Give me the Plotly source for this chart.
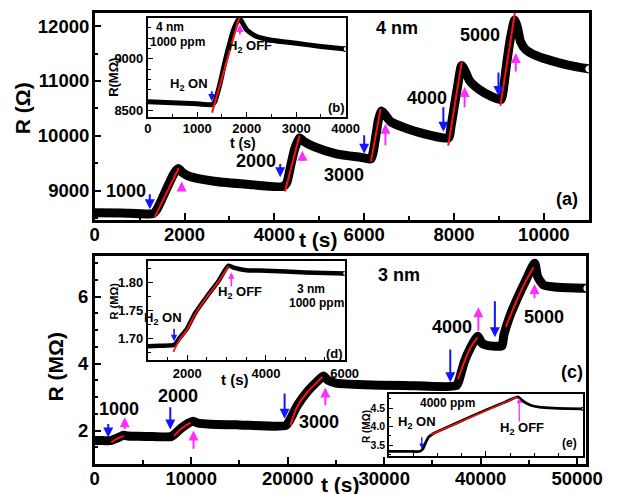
import plotly.graph_objects as go

W, H = 626, 494
FONT = "Arial, Liberation Sans, sans-serif"
BLUE = "#1414ff"
MAG = "#ff2cff"
RED = "#ff1010"

# ---------------- (a) 4 nm, main ----------------
t_a = [0, 600, 1300, 1380, 1500, 1650, 1780, 1860, 1950, 2100, 2660, 3380, 4200,
       4280, 4370, 4460, 4560, 4650, 4880, 5380, 5960, 6150,
       6200, 6260, 6320, 6380, 6450, 6600, 7180, 7880,
       7930, 8000, 8080, 8170, 8250, 8350, 8550, 8800, 9050,
       9100, 9170, 9250, 9350, 9420, 9480, 9600, 9830, 10200, 10540, 11000]
R_a = [8595, 8590, 8580, 8650, 8850, 9120, 9330, 9400, 9330, 9260, 9170, 9115, 9075,
       9150, 9480, 9780, 9960, 9900, 9800, 9670, 9600, 9575,
       9700, 10000, 10300, 10450, 10400, 10250, 10070, 9960,
       10150, 10500, 10900, 11280, 11180, 11000, 10850, 10730, 10660,
       10850, 11300, 11750, 12110, 11950, 11720, 11570, 11460, 11360, 11290, 11220]
fit_a_t = [[1333, 1870], [4237, 4559], [6150, 6365], [7871, 8172], [9032, 9355]]
fit_a_R = [[8510, 9410], [8982, 10000], [9527, 10490], [9818, 11345], [10545, 12236]]
conc_a = ["1000", "2000", "3000", "4000", "5000"]
conc_a_t = [700, 3590, 5550, 7400, 8580]
conc_a_R = [8985, 9530, 9290, 10690, 11840]
on_a_t = [1226, 4130, 6000, 7763, 8990]
on_a_from = [8960, 9510, 10036, 10545, 11180]
on_a_to = [8660, 9240, 9673, 10073, 10727]
off_a_t = [1935, 4624, 6473, 8236, 9376]
off_a_from = [8964, 9509, 9800, 10490, 11145]
off_a_to = [9164, 9727, 10218, 10890, 11509]

# ---------------- (b) 4 nm, 1000 ppm inset ----------------
t_b = [0, 500, 1000, 1300, 1350, 1450, 1550, 1650, 1750, 1850, 1900, 2000, 2200, 2500, 3000, 3500, 4000]
R_b = [8585, 8575, 8565, 8558, 8580, 8740, 8950, 9140, 9300, 9390, 9360, 9280, 9215, 9180, 9150, 9120, 9095]
fit_b_t = [1300, 1850]
fit_b_R = [8480, 9400]

# ---------------- (c) 3 nm, main ----------------
t_c = [0, 800, 1600, 2000, 2500, 3000, 3400, 4500, 6000, 7900,
       8300, 9000, 9700, 10200, 10700, 12000, 15000, 19800,
       20200, 21000, 22000, 23000, 23700, 24200, 25000, 28000, 32000, 37500,
       37800, 38300, 38900, 39700, 40100, 40600, 41500, 42200,
       42400, 43000, 43800, 44700, 45600, 45900, 46500, 48000, 51000]
R_c = [1.70, 1.70, 1.70, 1.74, 1.80, 1.86, 1.84, 1.83, 1.82, 1.82,
       1.90, 2.08, 2.22, 2.28, 2.22, 2.19, 2.17, 2.15,
       2.30, 2.75, 3.15, 3.45, 3.63, 3.50, 3.42, 3.37, 3.35, 3.35,
       3.55, 4.05, 4.45, 4.82, 4.62, 4.55, 4.52, 4.53,
       4.85, 5.40, 5.95, 6.50, 7.00, 6.60, 6.35, 6.28, 6.25]
fit_c_t = [[1700, 2300, 3000], [8230, 9000, 9940], [20280, 21000, 22000, 23000, 23600],
           [37650, 38300, 38900, 39660], [42600, 43000, 43800, 44700, 45500]]
fit_c_R = [[1.65, 1.75, 1.84], [1.84, 2.06, 2.24], [2.15, 2.72, 3.13, 3.43, 3.60],
           [3.53, 4.05, 4.45, 4.78], [5.10, 5.38, 5.93, 6.48, 6.88]]
conc_c = ["1000", "2000", "3000", "4000", "5000"]
conc_c_t = [2510, 8630, 23290, 37050, 46590]
conc_c_R = [2.65, 3.03, 2.26, 5.09, 5.38]
on_c_t = [1400, 7830, 19680, 36850, 41470]
on_c_from = [2.24, 2.74, 3.15, 4.47, 5.91]
on_c_to = [1.79, 2.03, 2.35, 3.44, 4.79]
off_c_t = [3110, 10240, 23900, 39760, 45580]
off_c_from = [2.00, 1.41, 2.71, 4.94, 5.91]
off_c_to = [2.40, 2.00, 3.29, 5.68, 6.38]

# ---------------- (d) 3 nm, 1000 ppm inset ----------------
t_d = [1000, 1300, 1650, 1700, 1800, 2000, 2200, 2500, 2800, 3050, 3200, 3500, 4000, 5000, 6000]
R_d = [1.686, 1.687, 1.688, 1.690, 1.700, 1.718, 1.745, 1.775, 1.803, 1.830, 1.826, 1.822, 1.821, 1.818, 1.816]
fit_d_t = [1650, 1800, 2000, 2200, 2500, 2800, 3050]
fit_d_R = [1.676, 1.697, 1.716, 1.743, 1.774, 1.802, 1.829]

# ---------------- (e) 4000 ppm inset ----------------
t_e = [30000, 32000, 33200, 33500, 33800, 34100, 34500, 36000, 38000, 40000, 42000, 43300,
       43600, 44000, 44600, 45500, 47000, 50000]
R_e = [3.33, 3.33, 3.33, 3.40, 3.58, 3.72, 3.80, 3.98, 4.22, 4.45, 4.67, 4.81,
       4.74, 4.66, 4.58, 4.53, 4.50, 4.48]
fit_e_t = [34300, 43200]
fit_e_R = [3.78, 4.80]


def pxx(x):
    return x / W


def pxy(y):
    return 1 - y / H


fig = go.Figure()


def curve(t, r, xa, ya, w, end_size):
    fig.add_trace(go.Scatter(x=t, y=r, mode="lines",
                             line=dict(color="black", width=w, shape="spline", smoothing=0.6),
                             xaxis=xa, yaxis=ya))
    fig.add_trace(go.Scatter(x=t[-1:], y=r[-1:], mode="markers",
                             marker=dict(color="white", size=end_size, line=dict(color="black", width=1.2)),
                             xaxis=xa, yaxis=ya))


curve(t_a, R_a, "x", "y", 9, 8)
for tt, rr in zip(fit_a_t, fit_a_R):
    fig.add_trace(go.Scatter(x=tt, y=rr, mode="lines", line=dict(color=RED, width=2), xaxis="x", yaxis="y"))

curve(t_b, R_b, "x2", "y2", 5, 5)
fig.add_trace(go.Scatter(x=fit_b_t, y=fit_b_R, mode="lines", line=dict(color=RED, width=2), xaxis="x2", yaxis="y2"))

curve(t_c, R_c, "x3", "y3", 9, 8)
for tt, rr in zip(fit_c_t, fit_c_R):
    fig.add_trace(go.Scatter(x=tt, y=rr, mode="lines", line=dict(color=RED, width=2, shape="spline"),
                             xaxis="x3", yaxis="y3"))

curve(t_d, R_d, "x4", "y4", 4.5, 4)
fig.add_trace(go.Scatter(x=fit_d_t, y=fit_d_R, mode="lines", line=dict(color=RED, width=1.8, shape="spline"),
                         xaxis="x4", yaxis="y4"))

curve(t_e, R_e, "x5", "y5", 2.8, 3)
fig.add_trace(go.Scatter(x=fit_e_t, y=fit_e_R, mode="lines", line=dict(color=RED, width=1.5), xaxis="x5", yaxis="y5"))


def axis(domain, rng, dtick, mdtick, lw, tl, mtl, fs, anchor, fmt="d", labels=True, tick0=None, standoff=0):
    d = dict(domain=domain, range=rng, anchor=anchor, dtick=dtick,
             showline=True, linewidth=lw, linecolor="black", mirror=True,
             ticks="inside", ticklen=tl, tickwidth=max(1, lw * 0.7), tickcolor="black",
             showgrid=False, zeroline=False, tickformat=fmt, showticklabels=labels,
             ticklabelstandoff=standoff,
             tickfont=dict(family=FONT, size=fs, color="black", weight="bold"),
             minor=dict(ticks="inside", ticklen=mtl, tickwidth=max(1, lw * 0.6), tickcolor="black",
                        dtick=mdtick, showgrid=False))
    if tick0 is not None:
        d["tick0"] = tick0
    return d


layout = dict(
    width=W, height=H, margin=dict(l=0, r=0, t=0, b=0),
    paper_bgcolor="white", plot_bgcolor="white", showlegend=False,
    xaxis=axis([pxx(93), pxx(605)], [0, 11000], 2000, 1000, 2.5, 7, 4, 18.5, "y", standoff=-4),
    yaxis=axis([pxy(220), pxy(13)], [8470, 12240], 1000, 500, 2.5, 7, 4, 18.5, "x", standoff=-1),
    xaxis2=axis([pxx(148), pxx(353)], [0, 4000], 1000, 500, 1.8, 5, 3, 13, "y2", standoff=-1),
    yaxis2=axis([pxy(117), pxy(18)], [8440, 9395], 500, 100, 1.8, 5, 3, 13, "x2"),
    xaxis3=axis([pxx(93), pxx(602)], [0, 50900], 10000, 5000, 2.5, 7, 4, 18.5, "y3", standoff=-4),
    yaxis3=axis([pxy(465), pxy(257)], [1.0, 7.2], 2, 0.5, 2.5, 7, 4, 18.5, "x3", standoff=0),
    xaxis4=axis([pxx(148), pxx(352)], [1000, 6000], 2000, 500, 1.8, 5, 3, 13, "y4"),
    yaxis4=axis([pxy(361), pxy(262)], [1.661, 1.8375], 0.05, 0.025, 1.8, 5, 3, 13, "x4", fmt=".2f"),
    xaxis5=axis([pxx(398), pxx(599)], [30000, 50000], 10000, 2500, 1.5, 5, 3, 10, "y5", labels=False, tick0=30000),
    yaxis5=axis([pxy(457), pxy(395)], [3.2, 4.88], 0.5, 0.25, 1.5, 4, 2, 10.5, "x5", fmt=".1f"),
)
fig.update_layout(**layout)

ann = []


def txt(text, x, y, xr, yr, size, angle=0, xanchor="center"):
    ann.append(dict(text=text, x=x, y=y, xref=xr, yref=yr, showarrow=False, textangle=angle,
                    xanchor=xanchor, yanchor="middle",
                    font=dict(family=FONT, size=size, color="black", weight="bold")))


def arrow(t, y0, y1, xr, yr, color, width, size):
    ann.append(dict(text="", x=t, y=y1, ax=t, ay=y0, xref=xr, yref=yr, axref=xr, ayref=yr,
                    showarrow=True, arrowhead=2, arrowsize=size, arrowwidth=width,
                    arrowcolor=color, standoff=0, startstandoff=0))


# (a)
for s, t, r in zip(conc_a, conc_a_t, conc_a_R):
    txt(s, t, r, "x", "y", 18)
txt("4 nm", 6730, 11960, "x", "y", 18)
txt("(a)", 10520, 8840, "x", "y", 18)
for t, a, b in zip(on_a_t, on_a_from, on_a_to):
    arrow(t, a, b, "x", "y", BLUE, 2, 1.0)
for t, a, b in zip(off_a_t, off_a_from, off_a_to):
    arrow(t, a, b, "x", "y", MAG, 2, 1.0)
txt("R (\u03a9)", pxx(18), pxy(108), "paper", "paper", 21, angle=-90)
txt("t (s)", pxx(325), pxy(240), "paper", "paper", 21)

# (b)
txt("4 nm", 451, 9308, "x2", "y2", 12)
txt("1000 ppm", 608, 9163, "x2", "y2", 12)
txt("H<sub>2</sub> ON", 824, 8750, "x2", "y2", 13)
txt("H<sub>2</sub> OFF", 2060, 9115, "x2", "y2", 13)
txt("(b)", 3820, 8529, "x2", "y2", 13)
arrow(1294, 8700, 8590, "x2", "y2", BLUE, 1.8, 0.8)
arrow(1863, 9220, 9330, "x2", "y2", MAG, 1.8, 0.8)
txt("R(M\u03a9)", pxx(113), pxy(78), "paper", "paper", 13, angle=-90)
txt("t (s)", pxx(247), pxy(143), "paper", "paper", 14)

# (c)
for s, t, r in zip(conc_c, conc_c_t, conc_c_R):
    txt(s, t, r, "x3", "y3", 18)
txt("3 nm", 31530, 6.65, "x3", "y3", 18)
txt("(c)", 49500, 3.74, "x3", "y3", 18)
for t, a, b in zip(on_c_t, on_c_from, on_c_to):
    arrow(t, a, b, "x3", "y3", BLUE, 2, 1.0)
for t, a, b in zip(off_c_t, off_c_from, off_c_to):
    arrow(t, a, b, "x3", "y3", MAG, 2, 1.0)
txt("R (M\u03a9)", pxx(52), pxy(368), "paper", "paper", 21, angle=-90)
txt("t (s)", pxx(348), pxy(485), "paper", "paper", 21)

# (d)
txt("H<sub>2</sub> ON", 1383, 1.7357, "x4", "y4", 13)
txt("H<sub>2</sub> OFF", 3333, 1.782, "x4", "y4", 13)
txt("3 nm", 5136, 1.7875, "x4", "y4", 12)
txt("1000 ppm", 5284, 1.7625, "x4", "y4", 12)
txt("(d)", 5753, 1.673, "x4", "y4", 13)
arrow(1667, 1.72, 1.695, "x4", "y4", BLUE, 1.6, 0.8)
arrow(3123, 1.79, 1.818, "x4", "y4", MAG, 1.6, 0.8)
txt("R (M\u03a9)", pxx(113), pxy(302), "paper", "paper", 11, angle=-90)
txt("t (s)", pxx(238), pxy(380), "paper", "paper", 15)

# (e)
txt("4000 ppm", 36070, 4.635, "x5", "y5", 12)
txt("H<sub>2</sub> ON", 32890, 4.12, "x5", "y5", 13)
txt("H<sub>2</sub> OFF", 43730, 3.96, "x5", "y5", 13)
txt("(e)", 48600, 3.55, "x5", "y5", 12)
arrow(33380, 3.75, 3.40, "x5", "y5", BLUE, 1.3, 0.8)
arrow(43430, 4.10, 4.78, "x5", "y5", MAG, 1.3, 0.8)
txt("R (M\u03a9)", pxx(374), pxy(427), "paper", "paper", 10, angle=-90)

fig.update_layout(annotations=ann)
fig.write_html("out.html", config={"displayModeBar": False},
               post_script="document.body.style.margin='0';document.body.style.padding='0';"
                           "document.body.style.overflow='hidden';")
